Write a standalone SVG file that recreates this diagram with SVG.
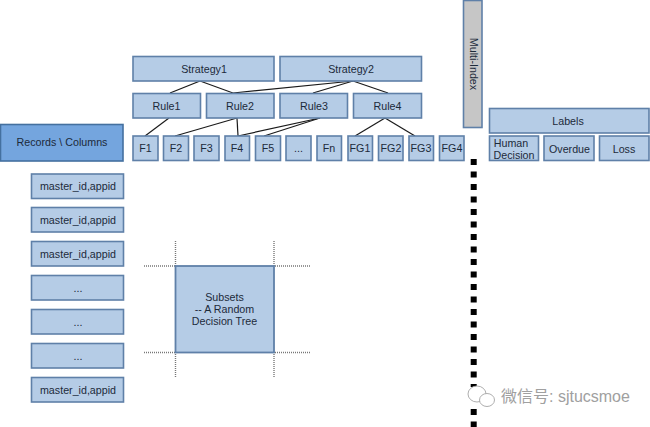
<svg xmlns="http://www.w3.org/2000/svg" width="650" height="427" viewBox="0 0 650 427">
<style>
.b{fill:#b5cce6;stroke:#5f80a8;stroke-width:1.6}
.d{fill:#74a5de;stroke:#44709f;stroke-width:1.6}
.g{fill:#c6c6c6;stroke:#5f80a8;stroke-width:1.6}
text{font-family:"Liberation Sans",Arial,sans-serif;font-size:10.7px;fill:#1c2a3a;text-anchor:middle}
.c line{stroke:#1a1a1a;stroke-width:1.2}
.o line{stroke:#777;stroke-width:1.4;stroke-dasharray:1 1}
.i{fill:#fff;stroke:#a5a5a5;stroke-width:.9}
</style>
<rect width="650" height="427" fill="#fff"/>
<g id="connectors" class="c">
<line x1="200" y1="81" x2="170" y2="93"/><line x1="200" y1="81" x2="233" y2="93"/>
<line x1="353" y1="81" x2="233" y2="93"/><line x1="353" y1="81" x2="313" y2="93"/><line x1="353" y1="81" x2="388" y2="93"/>
<line x1="169" y1="118" x2="145" y2="136"/><line x1="237" y1="118" x2="175" y2="136"/><line x1="237" y1="118" x2="238" y2="136"/>
<line x1="320" y1="118" x2="238" y2="136"/><line x1="320" y1="118" x2="264" y2="136"/>
<line x1="385" y1="118" x2="355" y2="136"/><line x1="385" y1="118" x2="415" y2="136"/>
</g>
<g id="strategy1"><rect class="b" x="133" y="56.5" width="141" height="24.5"/><text x="204" y="72.5">Strategy1</text></g>
<g id="strategy2"><rect class="b" x="280" y="56.5" width="141.5" height="24.5"/><text x="351" y="72.5">Strategy2</text></g>
<g id="rule1"><rect class="b" x="133" y="93.5" width="67.5" height="24.5"/><text x="166.500" y="109.500">Rule1</text></g>
<g id="rule2"><rect class="b" x="206.500" y="93.5" width="67.500" height="24.5"/><text x="240" y="109.500">Rule2</text></g>
<g id="rule3"><rect class="b" x="280" y="93.5" width="67.500" height="24.5"/><text x="314" y="109.500">Rule3</text></g>
<g id="rule4"><rect class="b" x="353.500" y="93.5" width="68" height="24.5"/><text x="387.500" y="109.500">Rule4</text></g>
<g id="f1"><rect class="b" x="133" y="136" width="25" height="24.5"/><text x="145.500" y="152">F1</text></g>
<g id="f2"><rect class="b" x="163.500" y="136" width="25" height="24.5"/><text x="176" y="152">F2</text></g>
<g id="f3"><rect class="b" x="194" y="136" width="25" height="24.5"/><text x="206.500" y="152">F3</text></g>
<g id="f4"><rect class="b" x="225" y="136" width="24.500" height="24.5"/><text x="237" y="152">F4</text></g>
<g id="f5"><rect class="b" x="255.500" y="136" width="25" height="24.5"/><text x="268" y="152">F5</text></g>
<g id="fdots"><rect class="b" x="286" y="136" width="25" height="24.5"/><text x="298.500" y="152">...</text></g>
<g id="fn"><rect class="b" x="317" y="136" width="24.500" height="24.5"/><text x="329" y="152">Fn</text></g>
<g id="fg1"><rect class="b" x="348" y="136" width="24.500" height="24.5"/><text x="360" y="152">FG1</text></g>
<g id="fg2"><rect class="b" x="378.500" y="136" width="24.500" height="24.5"/><text x="391" y="152">FG2</text></g>
<g id="fg3"><rect class="b" x="409" y="136" width="24.500" height="24.5"/><text x="421" y="152">FG3</text></g>
<g id="fg4"><rect class="b" x="439.500" y="136" width="24.500" height="24.5"/><text x="452" y="152">FG4</text></g>
<g id="multi-index"><rect class="g" x="463.500" y="0.500" width="18.500" height="127"/><text transform="translate(469.500,64) rotate(90)">Multi-Index</text></g>
<g id="labels"><rect class="b" x="489.500" y="108.500" width="159.500" height="24.500"/><text x="568" y="125">Labels</text></g>
<g id="human"><rect class="b" x="489.500" y="136" width="49" height="24.500"/><text x="511" y="147">Human</text><text x="514" y="159">Decision</text></g>
<g id="overdue"><rect class="b" x="544" y="136" width="50" height="24.500"/><text x="569.500" y="152.500">Overdue</text></g>
<g id="loss"><rect class="b" x="599.500" y="136" width="49.500" height="24.500"/><text x="624" y="152.500">Loss</text></g>
<g id="records"><rect class="d" x="0.500" y="124.500" width="122.500" height="36.500"/><text x="62" y="146">Records \ Columns</text></g>
<g id="m1"><rect class="b" x="31.500" y="174" width="92" height="24.500"/><text x="78" y="190">master_id,appid</text></g>
<g id="m2"><rect class="b" x="31.500" y="207.500" width="92" height="24.500"/><text x="78" y="224">master_id,appid</text></g>
<g id="m3"><rect class="b" x="31.500" y="241.500" width="92" height="24.500"/><text x="78" y="258">master_id,appid</text></g>
<g id="m4"><rect class="b" x="31.500" y="275.500" width="92" height="24.500"/><text x="78" y="292">...</text></g>
<g id="m5"><rect class="b" x="31.500" y="309.500" width="92" height="24.500"/><text x="78" y="326">...</text></g>
<g id="m6"><rect class="b" x="31.500" y="343.500" width="92" height="24.500"/><text x="78" y="360">...</text></g>
<g id="m7"><rect class="b" x="31.500" y="377.500" width="92" height="24.500"/><text x="78" y="394">master_id,appid</text></g>
<g id="subset-guides" class="o">
<line x1="175.500" y1="241" x2="175.500" y2="266"/><line x1="274" y1="241" x2="274" y2="266"/>
<line x1="175.500" y1="352" x2="175.500" y2="377"/><line x1="274" y1="352" x2="274" y2="377"/>
<line x1="144" y1="266" x2="175" y2="266"/><line x1="275" y1="266" x2="311" y2="266"/>
<line x1="144" y1="352.500" x2="175" y2="352.500"/><line x1="275" y1="352.500" x2="311" y2="352.500"/>
</g>
<g id="subsets"><rect x="175.500" y="266" width="98.500" height="86.500" fill="#b5cce6" stroke="#5f80a8" stroke-width="1.8"/><text x="224.500" y="301">Subsets</text><text x="224.500" y="313">-- A Random</text><text x="224.500" y="325">Decision Tree</text></g>
<path id="divider" d="M473.700 159V427" fill="none" stroke="#000" stroke-width="6" stroke-dasharray="6 6.500"/>
<g id="watermark">
<rect x="466" y="387" width="170" height="21" fill="#fff"/>
<ellipse class="i" cx="477" cy="394" rx="9" ry="8"/>
<ellipse class="i" cx="487" cy="400" rx="7.500" ry="6.500"/>
<text x="501" y="402" style="text-anchor:start;font-size:16px;fill:#a0a0a0;font-family:'Liberation Sans','Noto Sans CJK SC',sans-serif">微信号: sjtucsmoe</text>
</g>
</svg>
